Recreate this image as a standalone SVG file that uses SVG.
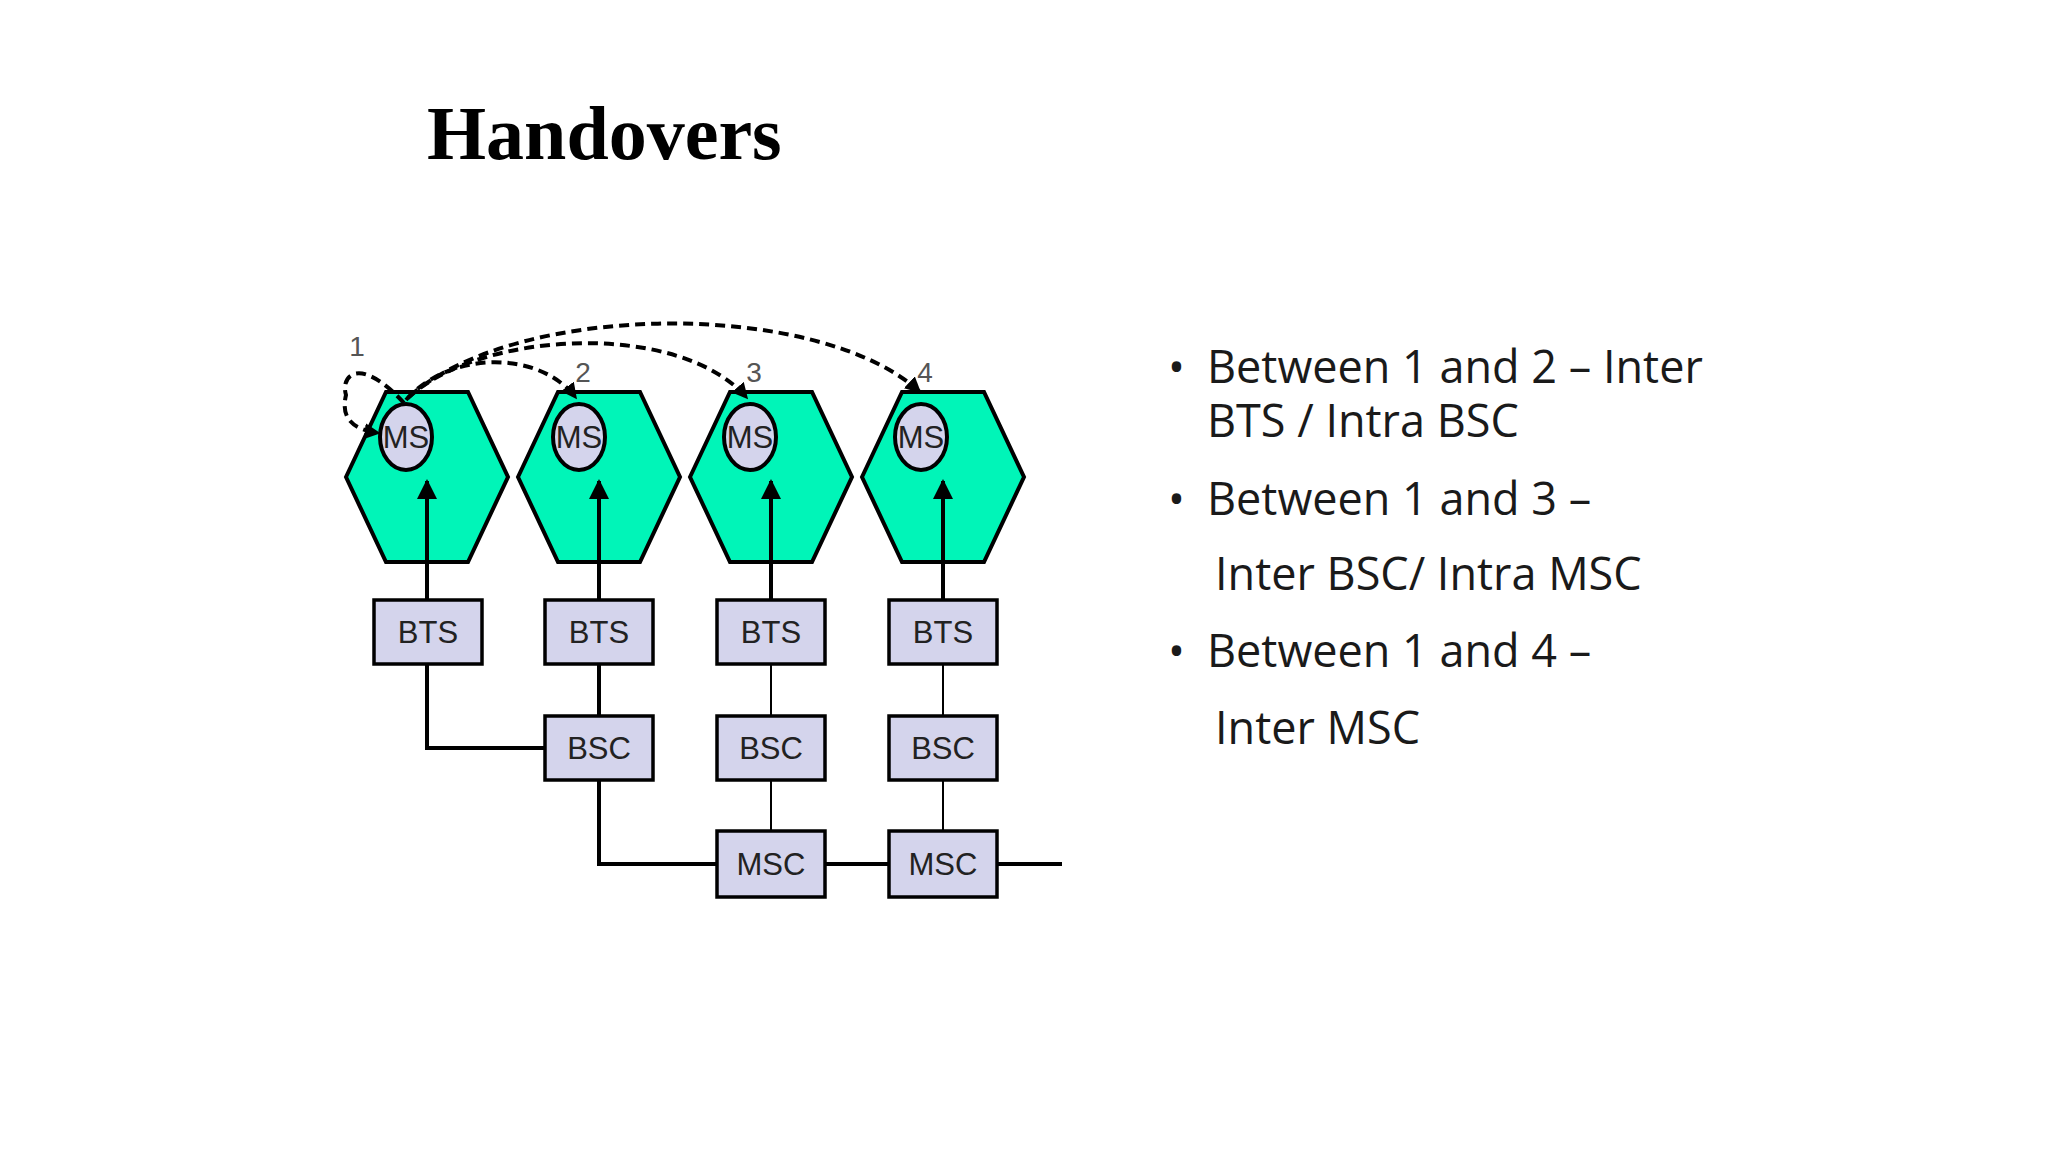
<svg xmlns="http://www.w3.org/2000/svg" width="2048" height="1152" viewBox="0 0 2048 1152">
<defs>
<marker id="ah" viewBox="0 0 10 10" refX="9" refY="5" markerWidth="5" markerHeight="5" orient="auto-start-reverse" markerUnits="strokeWidth"><path d="M0,0 L10,5 L0,10 z" fill="#000"/></marker>
<marker id="ah2" viewBox="0 0 10 10" refX="9" refY="5" markerWidth="4" markerHeight="4" orient="auto" markerUnits="strokeWidth"><path d="M0,0 L10,5 L0,10 z" fill="#000"/></marker>
</defs>
<style>
.hex{fill:#00f5b8;stroke:#000;stroke-width:4}
.ms{fill:#d4d4ec;stroke:#000;stroke-width:4}
.box{fill:#d4d4ec;stroke:#000;stroke-width:3.5}
.lbl{font-family:"Liberation Sans",Arial,sans-serif;font-size:31px;fill:#222;text-anchor:middle}
.num{font-family:"Liberation Sans",Arial,sans-serif;font-size:28px;fill:#555;text-anchor:middle}
.b{font-family:"Open Sans","Liberation Sans",sans-serif;font-size:45px;fill:#1a1a1a}
.thick{stroke:#000;stroke-width:4;fill:none}
.thin{stroke:#000;stroke-width:2;fill:none}
.dash{stroke:#000;stroke-width:4;fill:none;stroke-dasharray:10 6}
</style>
<rect width="2048" height="1152" fill="#fff"/>
<text x="427" y="159" font-family="Liberation Serif,serif" font-weight="bold" font-size="76">Handovers</text>
<g id="cell1"><polygon class="hex" points="346,477 386,392 468,392 508,477 468,562 386,562"/><ellipse class="ms" cx="406" cy="437" rx="26" ry="33"/><text class="lbl" x="406" y="448">MS</text></g>
<g id="cell2"><polygon class="hex" points="518,477 558,392 640,392 680,477 640,562 558,562"/><ellipse class="ms" cx="579" cy="437" rx="26" ry="33"/><text class="lbl" x="579" y="448">MS</text></g>
<g id="cell3"><polygon class="hex" points="690,477 730,392 812,392 852,477 812,562 730,562"/><ellipse class="ms" cx="750" cy="437" rx="26" ry="33"/><text class="lbl" x="750" y="448">MS</text></g>
<g id="cell4"><polygon class="hex" points="862,477 902,392 984,392 1024,477 984,562 902,562"/><ellipse class="ms" cx="921" cy="437" rx="26" ry="33"/><text class="lbl" x="921" y="448">MS</text></g>
<g id="labels"><text class="num" x="357" y="356">1</text><text class="num" x="583" y="382">2</text><text class="num" x="754" y="382">3</text><text class="num" x="925" y="382">4</text></g>
<g id="connectors">
<path class="thick" d="M427,600 V481" marker-end="url(#ah)"/>
<path class="thick" d="M599,600 V481" marker-end="url(#ah)"/>
<path class="thick" d="M771,600 V481" marker-end="url(#ah)"/>
<path class="thick" d="M943,600 V481" marker-end="url(#ah)"/>
<path class="thick" d="M427,664 V748 H545"/>
<path class="thick" d="M599,664 V716" stroke-width="3"/>
<path class="thin" d="M771,664 V716 M771,780 V831 M943,664 V716 M943,780 V831"/>
<path class="thick" d="M599,780 V864 H717 M825,864 H889 M997,864 H1062"/>
<path class="dash" d="M404,403 C360,355 340,375 346,395 C340,420 355,430 379,433" marker-end="url(#ah2)"/>
<path class="dash" d="M406,400 C450,350 540,350 576,398" marker-end="url(#ah2)"/>
<path class="dash" d="M408,398 C480,330 680,320 747,398" marker-end="url(#ah2)"/>
<path class="dash" d="M410,396 C520,300 820,300 920,392" marker-end="url(#ah2)"/>
</g>
<g id="bts1"><rect class="box" x="374" y="600" width="108" height="64"/><text class="lbl" x="428" y="643">BTS</text></g>
<g id="bts2"><rect class="box" x="545" y="600" width="108" height="64"/><text class="lbl" x="599" y="643">BTS</text></g>
<g id="bts3"><rect class="box" x="717" y="600" width="108" height="64"/><text class="lbl" x="771" y="643">BTS</text></g>
<g id="bts4"><rect class="box" x="889" y="600" width="108" height="64"/><text class="lbl" x="943" y="643">BTS</text></g>
<g id="bsc2"><rect class="box" x="545" y="716" width="108" height="64"/><text class="lbl" x="599" y="759">BSC</text></g>
<g id="bsc3"><rect class="box" x="717" y="716" width="108" height="64"/><text class="lbl" x="771" y="759">BSC</text></g>
<g id="bsc4"><rect class="box" x="889" y="716" width="108" height="64"/><text class="lbl" x="943" y="759">BSC</text></g>
<g id="msc3"><rect class="box" x="717" y="831" width="108" height="66"/><text class="lbl" x="771" y="875">MSC</text></g>
<g id="msc4"><rect class="box" x="889" y="831" width="108" height="66"/><text class="lbl" x="943" y="875">MSC</text></g>
<g id="bullets">
<text class="b" x="1168" y="383">•</text><text class="b" x="1207" y="383">Between 1 and 2 – Inter</text>
<text class="b" x="1207" y="437">BTS / Intra BSC</text>
<text class="b" x="1168" y="515">•</text><text class="b" x="1207" y="515">Between 1 and 3 –</text>
<text class="b" x="1215" y="590">Inter BSC/ Intra MSC</text>
<text class="b" x="1168" y="667">•</text><text class="b" x="1207" y="667">Between 1 and 4 –</text>
<text class="b" x="1215" y="744">Inter MSC</text>
</g>
</svg>
